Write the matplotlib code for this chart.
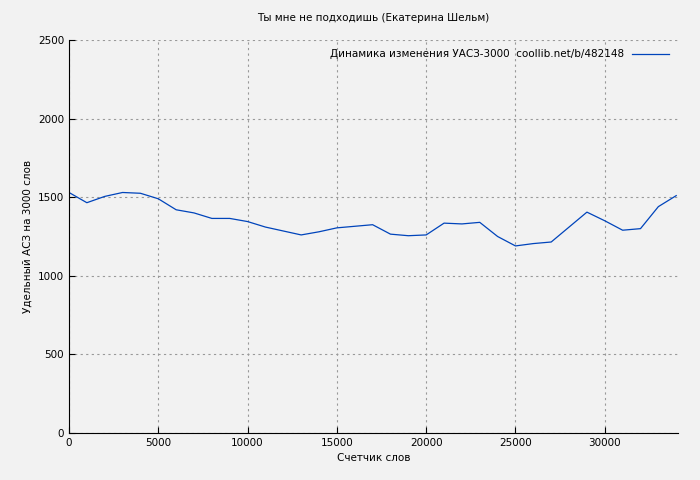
import matplotlib.pyplot as plt

words = list(range(0, 35000, 1000))
values = [1530, 1465, 1505, 1530, 1525, 1490, 1420, 1400, 1365, 1365,
          1345, 1310, 1285, 1260, 1280, 1305, 1315, 1325, 1265, 1255,
          1260, 1335, 1330, 1340, 1250, 1190, 1205, 1215, 1310, 1405,
          1350, 1290, 1300, 1440, 1510]

fig = plt.figure(figsize=(7, 4.8), dpi=100)
fig.patch.set_facecolor('#f2f2f2')
ax = fig.add_axes([69/700, 47/480, 609/700, 393/480])
ax.set_facecolor('#f2f2f2')
ax.plot(words, values, color='#0044bb', lw=0.9,
        label='Динамика изменения УАСЗ-3000  coollib.net/b/482148')
ax.set_xlim(0, 34100)
ax.set_ylim(0, 2500)
ax.set_xticks(range(0, 35000, 5000))
ax.set_yticks(range(0, 2501, 500))
ax.spines['top'].set_visible(False)
ax.spines['right'].set_visible(False)
ax.grid(True, color='#999999', linestyle=(0, (2, 3)), lw=0.8)
ax.tick_params(labelsize=7.5, direction='in', length=4)
ax.set_xlabel('Счетчик слов', fontsize=7.5)
ax.set_ylabel('Удельный АСЗ на 3000 слов', fontsize=7.5)
ax.set_title('Ты мне не подходишь (Екатерина Шельм)', fontsize=7.5, pad=14)
leg = ax.legend(loc='upper right', fontsize=7.5, frameon=False, markerfirst=False, handlelength=3.5)
fig.savefig('out.png', dpi=100, facecolor=fig.get_facecolor())
